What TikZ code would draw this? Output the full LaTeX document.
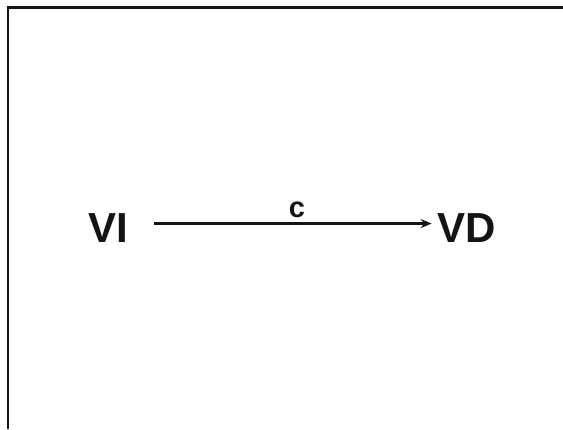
\documentclass[tikz,border=0pt]{standalone}
\usepackage{fontspec}
\setmainfont{Liberation Sans}
\usetikzlibrary{arrows.meta, positioning}
\definecolor{inkdark}{HTML}{141414}
\tikzset{
  varname/.style={font=\fontsize{42}{44}\selectfont\bfseries, text=inkdark, inner sep=0pt, anchor=base},
  pathlabel/.style={font=\fontsize{29}{31}\selectfont\bfseries, text=inkdark, inner sep=0pt, anchor=base},
}

\begin{document}
\begin{tikzpicture}[x=1pt, y=-1pt]
      \useasboundingbox (0,0) rectangle (563,429);
      \draw[inkdark, line width=2.2pt] (8,429) -- (8,7.5) -- (563,7.5);
      \node[varname] (vi) at (108,242) {VI};
      \node[varname] (vd) at (467,242) {VD};
      \draw[-{Stealth[length=11pt, width=9pt]}, inkdark, line width=2.4pt,
            shorten <=26pt, shorten >=6pt]
        ([yshift=4pt]vi.east) -- ([yshift=4pt]vd.west);
      \node[pathlabel] (c) at (297,217) {c};
    \end{tikzpicture}
\end{document}
